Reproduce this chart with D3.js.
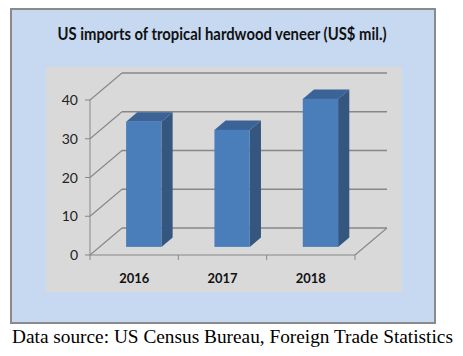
<!DOCTYPE html>
<html>
<head>
<meta charset="utf-8">
<script src="https://cdn.jsdelivr.net/npm/d3@7"></script>
<style>
  html, body { margin: 0; padding: 0; background: #ffffff; }
  svg { display: block; }
</style>
</head>
<body>
<svg id="chart" width="463" height="356"></svg>
<script>
// ---- data ----
const categories = ["2016", "2017", "2018"];
const values = [32.3, 30.2, 38.2];
const yTicks = [0, 10, 20, 30, 40];
const titleText = "US imports of tropical hardwood veneer (US$ mil.)";
const sourceText = "Data source: US Census Bureau, Foreign Trade Statistics";

// ---- layout ----
const svg = d3.select("#chart");
const depthX = 32, depthY = -27;         // full wall depth
const barFront = 0.30, barBack = 0.65;   // bar position within depth
const barRatio = 0.40;                   // bar width / band width

const x = d3.scaleBand().domain(categories).range([90, 355]).padding(0);
const y = d3.scaleLinear().domain([0, 40]).range([255, 100]);

const gridColor = "#878787";

// outer frame
svg.append("rect").attr("x", 11).attr("y", 9).attr("width", 424).attr("height", 314)
  .attr("fill", "#c6d9f1").attr("stroke", "#8a8a8a").attr("stroke-width", 2);

// plot area
svg.append("rect").attr("x", 46).attr("y", 67).attr("width", 356).attr("height", 225)
  .attr("fill", "#d9d9d9");

// title
svg.append("text").attr("x", 222).attr("y", 40)
  .attr("text-anchor", "middle")
  .attr("font-family", "Lato, 'Open Sans', sans-serif").attr("font-weight", "bold")
  .attr("font-size", 16.5).attr("fill", "#111")
  .attr("textLength", 329).attr("lengthAdjust", "spacingAndGlyphs")
  .text(titleText);

const g = svg.append("g");
const x0 = x.range()[0], x1 = x.range()[1];

// back wall gridlines + left wall diagonals + front ticks
yTicks.forEach(v => {
  const yy = y(v);
  g.append("line").attr("x1", x0 + depthX).attr("x2", x1 + depthX)
    .attr("y1", yy + depthY).attr("y2", yy + depthY)
    .attr("stroke", gridColor).attr("stroke-width", 1.3);
  g.append("line").attr("x1", x0).attr("y1", yy).attr("x2", x0 + depthX).attr("y2", yy + depthY)
    .attr("stroke", gridColor).attr("stroke-width", 1.1);
  g.append("line").attr("x1", x0 - 5).attr("x2", x0).attr("y1", yy).attr("y2", yy)
    .attr("stroke", gridColor).attr("stroke-width", 1);
  g.append("text").attr("x", 78).attr("y", yy).attr("dy", "0.36em")
    .attr("text-anchor", "end").attr("font-family", "Lato, sans-serif")
    .attr("font-size", 14).attr("fill", "#222").text(v);
});

// vertical front axis
g.append("line").attr("x1", x0).attr("x2", x0).attr("y1", y(40)).attr("y2", y(0))
  .attr("stroke", gridColor).attr("stroke-width", 1);

// floor front edge and right diagonal
g.append("line").attr("x1", x0).attr("x2", x1).attr("y1", y(0)).attr("y2", y(0))
  .attr("stroke", gridColor).attr("stroke-width", 1.2);
g.append("line").attr("x1", x1).attr("y1", y(0)).attr("x2", x1 + depthX).attr("y2", y(0) + depthY)
  .attr("stroke", gridColor).attr("stroke-width", 1.1);

// category ticks
const bounds = categories.map(c => x(c)).concat([x1]);
bounds.forEach(b => {
  g.append("line").attr("x1", b).attr("x2", b).attr("y1", y(0)).attr("y2", y(0) + 5)
    .attr("stroke", gridColor).attr("stroke-width", 1);
});

// category labels
categories.forEach(c => {
  g.append("text").attr("x", x(c) + x.bandwidth() / 2).attr("y", 283)
    .attr("text-anchor", "middle").attr("font-family", "Lato, sans-serif")
    .attr("font-weight", "bold").attr("font-size", 14).attr("fill", "#111")
    .attr("textLength", 30).attr("lengthAdjust", "spacingAndGlyphs").text(c);
});

// bars
const bw = x.bandwidth() * barRatio;
const fdx = depthX * barFront, fdy = depthY * barFront;
const bdx = depthX * (barBack - barFront), bdy = depthY * (barBack - barFront);
categories.forEach((c, i) => {
  const v = values[i];
  const left = x(c) + x.bandwidth() / 2 - bw / 2 + fdx;
  const right = left + bw;
  const top = y(v) + fdy;
  const bottom = y(0) + fdy;
  // side face
  g.append("path").attr("d", d3.line()([
    [right, top], [right + bdx, top + bdy], [right + bdx, bottom + bdy], [right, bottom]
  ]) + "Z").attr("fill", "#34567f");
  // top face
  g.append("path").attr("d", d3.line()([
    [left, top], [left + bdx, top + bdy], [right + bdx, top + bdy], [right, top]
  ]) + "Z").attr("fill", "#3c6397");
  // front face
  g.append("rect").attr("x", left).attr("y", top).attr("width", bw).attr("height", bottom - top)
    .attr("fill", "#4a7ebb");
});

// source caption
const src = svg.append("text").attr("x", 12).attr("y", 343)
  .attr("font-family", "'Liberation Serif', 'Times New Roman', serif")
  .attr("font-size", 20).attr("fill", "#000").text(sourceText);
(function fit(t, target) {
  const w = t.node().getComputedTextLength();
  const fs = +t.attr("font-size");
  t.attr("font-size", (fs * target / w).toFixed(2));
})(src, 441);
</script>
</body>
</html>
